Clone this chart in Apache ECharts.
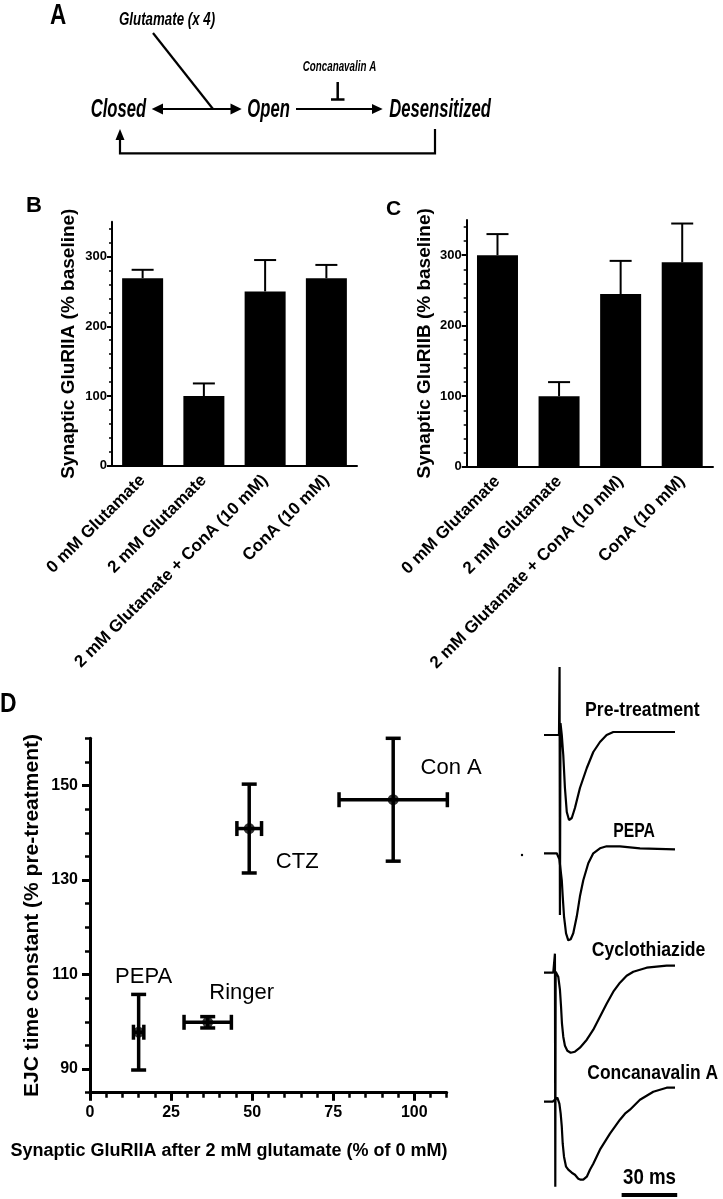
<!DOCTYPE html>
<html>
<head>
<meta charset="utf-8">
<title>GluRIIA desensitization</title>
<script src="https://cdn.jsdelivr.net/npm/echarts@6.0.0/dist/echarts.min.js"></script>
<style>
  html, body { margin: 0; padding: 0; background: #fff; }
  #chart { width: 723px; height: 1199px; }
</style>
</head>
<body>
<div id="chart"></div>
<script>
// B / C: synaptic receptor levels (% baseline), mean and upper error
const treatments = ['0 mM Glutamate', '2 mM Glutamate', '2 mM Glutamate + ConA (10 mM)', 'ConA (10 mM)'];
const gluRIIAMean = [269, 100, 250, 269];
const gluRIIAErr = [12, 18, 45, 19];
const gluRIIBMean = [300, 100, 245, 290];
const gluRIIBErr = [30, 20, 47, 55];
const barTicksMinor = [0, 20, 40, 60, 80, 100, 120, 140, 160, 180, 200, 220, 240, 260, 280, 300, 320, 340];
const barTicksMajor = [0, 100, 200, 300];

// D: GluRIIA left after glutamate vs EJC decay
const conditions = ['Ringer', 'PEPA', 'CTZ', 'Con A'];
const gluRIIAPct = [36.3, 15.0, 49.1, 93.5];
const gluRIIAPctErr = [7.3, 1.6, 3.8, 16.7];
const ejcTau = [99.9, 97.8, 140.9, 147.0];
const ejcTauErr = [1.2, 8.0, 9.4, 13.0];
const tauTicksMinor = [85, 90, 95, 100, 105, 110, 115, 120, 125, 130, 135, 140, 145, 150, 155, 160];
const tauTicksMajor = [90, 110, 130, 150];
const pctTicksMinor = [0, 5, 10, 15, 20, 25, 30, 35, 40, 45, 50, 55, 60, 65, 70, 75, 80, 85, 90, 95, 100, 105, 110];
const pctTicksMajor = [0, 25, 50, 75, 100];

// example EJC traces: time (ms) and current (a.u., inward negative)
const preTime = [0, 6.9, 8.1, 8.4, 8.6, 8.9, 9.6, 10.4, 11.3, 12.3, 13.5, 15.0, 16.7, 19.4, 23.1, 26.6, 30.2, 33.8, 37.4, 41.0, 70.7];
const preCurrent = [0, 0, 0, 68, -180, 12, 0, -20, -53, -77, -85, -83, -73, -53, -33, -17, -7, 0, 3, 3, 3];
const pepaTime = [0, 6.9, 8.3, 9.0, 9.6, 10.1, 10.8, 11.9, 13.1, 14.4, 15.8, 17.7, 19.4, 21.2, 23.9, 26.6, 30.2, 33.8, 41.0, 51.8, 70.7];
const pepaCurrent = [0, 0, -6, -6, -27, -43, -63, -80, -87, -86, -80, -63, -43, -27, -10, 0, 5, 7, 7, 5, 4];
const ctzTime = [0, 5.0, 5.9, 6.1, 6.3, 6.9, 7.7, 8.6, 9.2, 9.7, 10.4, 11.3, 12.6, 14.4, 16.7, 19.4, 23.1, 26.6, 30.2, 33.8, 37.4, 41.0, 44.6, 48.2, 51.8, 55.4, 60.8, 66.2, 70.7];
const ctzCurrent = [0, 0, 19, -214, 1, 1, -4, -17, -34, -51, -64, -73, -78, -80, -79, -75, -67, -57, -44, -31, -19, -10, -3, 1, 3, 5, 6, 7, 7];
const conATime = [0, 4.7, 5.4, 7.2, 8.3, 9.0, 9.6, 10.1, 10.8, 11.9, 13.1, 15.0, 16.7, 18.5, 19.8, 21.2, 23.1, 24.8, 26.6, 28.4, 30.2, 32.9, 35.6, 38.3, 41.0, 43.7, 46.4, 49.1, 51.8, 55.4, 59.0, 62.6, 66.2, 70.7];
const conACurrent = [0, 0, -2, 4, -2, -12, -25, -42, -55, -65, -68, -71, -73, -77, -78, -78, -75, -68, -62, -55, -48, -40, -32, -25, -18, -12, -8, -3, 2, 6, 10, 12, 14, 14];
const scaleBarMs = 30;

const FONT = '"Liberation Sans", Arial, Helvetica, sans-serif';
const black = '#000';

// layout
const traceTops = [635, 753.3, 872.7, 1001.7];
const scaleBarStart = 41.9, scaleBarLevel = -93.3;
const labelOffsets = { 'Ringer': [34, -29], 'PEPA': [5, -55], 'CTZ': [48, 33], 'Con A': [58, -32] };

const chart = echarts.init(document.getElementById('chart'), null, { width: 723, height: 1199 });

function barXAxis(gridIndex) {
  return {
    type: 'category', gridIndex, data: treatments,
    axisLine: { lineStyle: { color: black, width: 2 } },
    axisTick: { show: false },
    axisLabel: { interval: 0, rotate: 45, margin: 12, color: black, fontFamily: FONT, fontWeight: 'bold', fontSize: 17 },
    splitLine: { show: false }
  };
}

function barYAxes(gridIndex, title, gap) {
  return [
    { type: 'value', gridIndex, min: 0, max: 350, position: 'left',
      axisLine: { show: true, lineStyle: { color: black, width: 2 } },
      axisTick: { show: true, customValues: barTicksMinor, length: 3, lineStyle: { color: black, width: 1.5 } },
      axisLabel: { show: false }, splitLine: { show: false } },
    { type: 'value', gridIndex, min: 0, max: 350, position: 'left', offset: 0,
      axisLine: { show: false },
      axisTick: { show: true, customValues: barTicksMajor, length: 5, lineStyle: { color: black, width: 2 } },
      axisLabel: { customValues: barTicksMajor, margin: 5, color: black, fontFamily: FONT, fontWeight: 'bold', fontSize: 13 },
      splitLine: { show: false },
      name: title, nameLocation: 'middle', nameGap: gap,
      nameTextStyle: { color: black, fontFamily: FONT, fontWeight: 'bold', fontSize: 19 } }
  ];
}

function barErrorItem(params, api) {
  const base = api.coord([api.value(0), api.value(1)]);
  const top = api.coord([api.value(0), api.value(1) + api.value(2)]);
  const st = { stroke: black, lineWidth: 2 };
  return {
    type: 'group',
    children: [
      { type: 'line', shape: { x1: base[0], y1: base[1], x2: top[0], y2: top[1] }, style: st },
      { type: 'line', shape: { x1: top[0] - 11, y1: top[1], x2: top[0] + 11, y2: top[1] }, style: st }
    ]
  };
}

function crossErrorItem(params, api) {
  const x = api.value(0), y = api.value(1), ex = api.value(2), ey = api.value(3);
  const l = api.coord([x - ex, y]), r = api.coord([x + ex, y]);
  const t = api.coord([x, y + ey]), b = api.coord([x, y - ey]);
  const cap = 7.5;
  const st = { stroke: black, lineWidth: 3.5 };
  const seg = (x1, y1, x2, y2) => ({ type: 'line', shape: { x1, y1, x2, y2 }, style: st });
  return {
    type: 'group',
    children: [
      seg(l[0], l[1], r[0], r[1]),
      seg(l[0], l[1] - cap, l[0], l[1] + cap),
      seg(r[0], r[1] - cap, r[0], r[1] + cap),
      seg(t[0], t[1], b[0], b[1]),
      seg(t[0] - cap, t[1], t[0] + cap, t[1]),
      seg(b[0] - cap, b[1], b[0] + cap, b[1])
    ]
  };
}

function zip(a, b) { return a.map((v, i) => [v, b[i]]); }

function traceSeries(idx, time, current) {
  return {
    type: 'line', xAxisIndex: 4 + idx, yAxisIndex: 6 + idx,
    data: zip(time, current), showSymbol: false, smooth: false,
    lineStyle: { color: black, width: 2.2 }, silent: true
  };
}

// graphic helpers
function txt(str, x, y, font, sx, align) {
  return {
    type: 'text', x, y, scaleX: sx || 1,
    style: { text: str, font: font + ' ' + FONT, fill: black,
      align: align || 'left', textAlign: align || 'left',
      verticalAlign: 'middle', textVerticalAlign: 'middle' }
  };
}
function path(points, w) {
  return { type: 'polyline', shape: { points }, style: { stroke: black, lineWidth: w || 2.2, fill: null } };
}
function head(points) {
  return { type: 'polygon', shape: { points }, style: { fill: black } };
}

const graphics = [
  // panel letters
  txt('A', 50, 16, 'bold 30px', 0.75),
  txt('B', 26, 206, 'bold 22px'),
  txt('C', 386, 209, 'bold 21px'),
  txt('D', 0, 705, 'bold 27px', 0.85),
  // scheme in A
  txt('Glutamate (x 4)', 119, 20, 'italic bold 19px', 0.7),
  txt('Concanavalin A', 302.7, 67, 'italic bold 14px', 0.7),
  txt('Closed', 90.7, 110, 'italic bold 26px', 0.64),
  txt('Open', 247.3, 110, 'italic bold 26px', 0.64),
  txt('Desensitized', 389.3, 110, 'italic bold 26px', 0.64),
  path([[153, 33], [213, 109]]),
  path([[162, 109], [231, 109]]),
  head([[151.7, 109], [163, 103.5], [163, 114.5]]),
  head([[241.7, 109], [230.5, 103.5], [230.5, 114.5]]),
  path([[296, 109], [373, 109]]),
  head([[382.7, 109], [372, 104], [372, 114]]),
  path([[337.7, 82], [337.7, 99]], 2.5),
  path([[331, 99.5], [344.5, 99.5]], 2.5),
  path([[435, 129], [435, 153.3], [120, 153.3], [120, 139]]),
  head([[120, 129], [115.5, 140], [124.5, 140]]),
  // D axis title and trace labels
  txt('Synaptic GluRIIA after 2 mM glutamate (% of 0 mM)', 229, 1151, 'bold 18px', 1, 'center'),
  txt('Pre-treatment', 585, 710, 'bold 21px', 0.84),
  txt('PEPA', 634, 831, 'bold 21px', 0.75, 'center'),
  txt('Cyclothiazide', 591.7, 950, 'bold 21px', 0.84),
  txt('Concanavalin A', 587.3, 1073, 'bold 21px', 0.83),
  txt('30 ms', 649.5, 1178, 'bold 22px', 0.85, 'center'),
  { type: 'circle', shape: { cx: 522, cy: 855, r: 1.2 }, style: { fill: black } }
];

const option = {
  animation: false,
  backgroundColor: '#fff',
  textStyle: { fontFamily: FONT, color: black },
  grid: [
    { left: 112, top: 221.7, width: 245, height: 244, outerBoundsMode: 'none' },
    { left: 466.7, top: 220, width: 246.3, height: 246.7, outerBoundsMode: 'none' },
    { left: 90, top: 738.3, width: 356.7, height: 354.4, outerBoundsMode: 'none' }
  ].concat(traceTops.map(top => ({ left: 544, top, width: 133.4, height: 340, outerBoundsMode: 'none' }))),
  xAxis: [
    barXAxis(0),
    barXAxis(1),
    { type: 'value', gridIndex: 2, min: 0, max: 110, position: 'bottom',
      axisLine: { show: true, lineStyle: { color: black, width: 3 } },
      axisTick: { show: true, customValues: pctTicksMinor, length: 5, lineStyle: { color: black, width: 2.5 } },
      axisLabel: { show: false }, splitLine: { show: false } },
    { type: 'value', gridIndex: 2, min: 0, max: 110, position: 'bottom', offset: 0,
      axisLine: { show: false },
      axisTick: { show: true, customValues: pctTicksMajor, length: 8, lineStyle: { color: black, width: 3 } },
      axisLabel: { customValues: pctTicksMajor, margin: 12, color: black, fontFamily: FONT, fontWeight: 'bold', fontSize: 16 },
      splitLine: { show: false } }
  ].concat(traceTops.map((_, i) => ({ type: 'value', gridIndex: 3 + i, min: 0, max: 72, show: false }))),
  yAxis: barYAxes(0, 'Synaptic GluRIIA (% baseline)', 34)
    .concat(barYAxes(1, 'Synaptic GluRIIB (% baseline)', 32))
    .concat([
      { type: 'value', gridIndex: 2, min: 85, max: 160, position: 'left',
        axisLine: { show: true, lineStyle: { color: black, width: 3 } },
        axisTick: { show: true, customValues: tauTicksMinor, length: 5, lineStyle: { color: black, width: 2.5 } },
        axisLabel: { show: false }, splitLine: { show: false } },
      { type: 'value', gridIndex: 2, min: 85, max: 160, position: 'left', offset: 0,
        axisLine: { show: false },
        axisTick: { show: true, customValues: tauTicksMajor, length: 8, lineStyle: { color: black, width: 3 } },
        axisLabel: { customValues: tauTicksMajor, margin: 12, color: black, fontFamily: FONT, fontWeight: 'bold', fontSize: 16 },
        splitLine: { show: false },
        name: 'EJC time constant (% pre-treatment)', nameLocation: 'middle', nameGap: 47,
        nameTextStyle: { color: black, fontFamily: FONT, fontWeight: 'bold', fontSize: 21 } }
    ])
    .concat(traceTops.map((_, i) => ({ type: 'value', gridIndex: 3 + i, min: -240, max: 100, show: false }))),
  series: [
    { type: 'bar', xAxisIndex: 0, yAxisIndex: 0, data: gluRIIAMean, barWidth: 41, itemStyle: { color: black } },
    { type: 'custom', xAxisIndex: 0, yAxisIndex: 0, renderItem: barErrorItem, z: 3,
      data: gluRIIAMean.map((m, i) => [i, m, gluRIIAErr[i]]) },
    { type: 'bar', xAxisIndex: 1, yAxisIndex: 2, data: gluRIIBMean, barWidth: 41, itemStyle: { color: black } },
    { type: 'custom', xAxisIndex: 1, yAxisIndex: 2, renderItem: barErrorItem, z: 3,
      data: gluRIIBMean.map((m, i) => [i, m, gluRIIBErr[i]]) },
    { type: 'custom', xAxisIndex: 2, yAxisIndex: 4, renderItem: crossErrorItem, z: 3,
      data: conditions.map((c, i) => [gluRIIAPct[i], ejcTau[i], gluRIIAPctErr[i], ejcTauErr[i]]) },
    { type: 'scatter', xAxisIndex: 2, yAxisIndex: 4, symbol: 'circle', symbolSize: 11, z: 4,
      itemStyle: { color: black },
      data: conditions.map((c, i) => ({
        name: c, value: [gluRIIAPct[i], ejcTau[i]],
        label: { show: true, formatter: c, position: 'inside', offset: labelOffsets[c],
          color: '#000', fontFamily: FONT, fontSize: 22, fontWeight: 'normal',
          textBorderWidth: 0, textShadowBlur: 0, opacity: 1 }
      })) },
    traceSeries(0, preTime, preCurrent),
    traceSeries(1, pepaTime, pepaCurrent),
    traceSeries(2, ctzTime, ctzCurrent),
    traceSeries(3, conATime, conACurrent),
    { type: 'line', xAxisIndex: 7, yAxisIndex: 9, showSymbol: false, silent: true,
      data: [[scaleBarStart, scaleBarLevel], [scaleBarStart + scaleBarMs, scaleBarLevel]],
      lineStyle: { color: black, width: 4 } }
  ],
  graphic: graphics
};

chart.setOption(option);
</script>
</body>
</html>
